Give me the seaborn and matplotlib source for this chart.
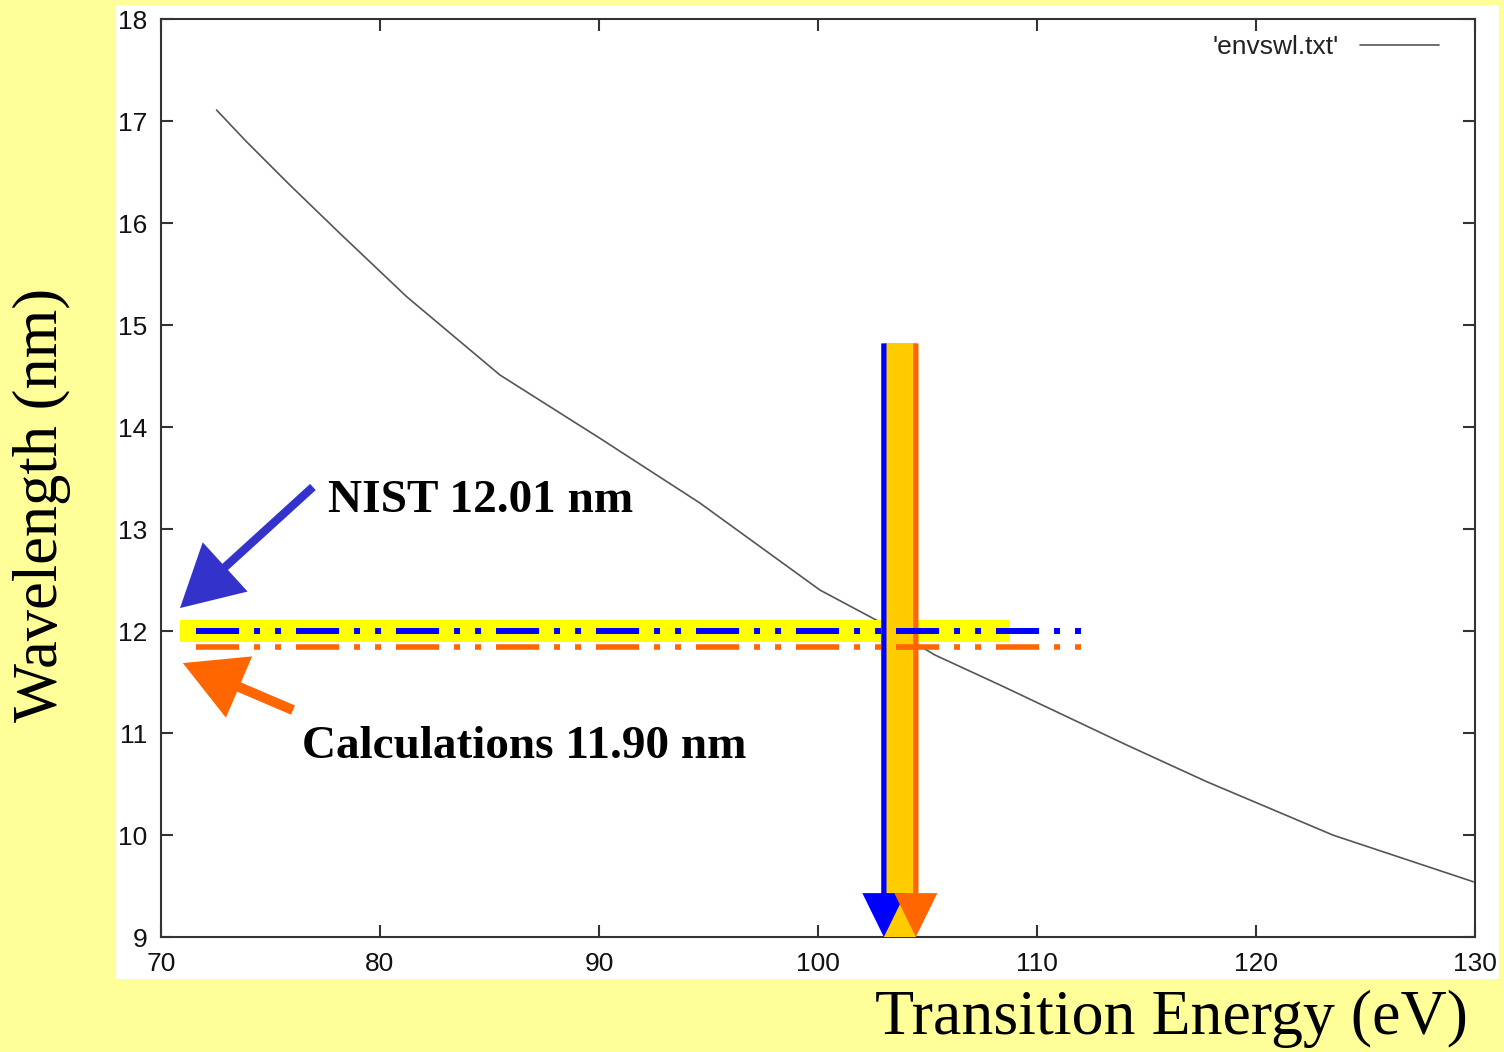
import numpy as np
import pandas as pd
import seaborn as sns
import matplotlib.pyplot as plt
from matplotlib.patches import Rectangle

## Data
energy = [72.54, 73.91, 75.81, 78.17, 81.22, 85.48, 90.05, 94.61, 100.09,
          102.83, 105.34, 108.31, 114.10, 117.75, 123.53, 129.92]
wavelength = [17.108, 16.797, 16.389, 15.899, 15.278, 14.510, 13.889, 13.255,
              12.402, 12.088, 11.765, 11.471, 10.882, 10.523, 9.998, 9.542]

nist_line = 12.00      # blue dash-dot-dot line
calc_line = 11.84      # orange dash-dot-dot line
line_x = [71.60, 112.01]
band_x = [70.87, 108.77]
band_y = [11.892, 12.108]
nist_energy = 103.01
calc_energy = 104.47
vert_top = 14.82

nist_label = "NIST 12.01 nm"
calc_label = "Calculations 11.90 nm"

BLUE = "#0000FF"
ORANGE = "#FF6600"
SERIF = ["Liberation Serif", "DejaVu Serif"]

sns.set_theme(style="ticks")
plt.rcParams["font.family"] = ["Liberation Sans", "DejaVu Sans"]
plt.rcParams["lines.scale_dashes"] = False
plt.rcParams["text.color"] = "black"

fig = plt.figure(figsize=(15.04, 10.52), dpi=100, facecolor="#FFFF99")
fig.add_artist(Rectangle((0.0771, 0.0694), 0.9196, 0.9258, transform=fig.transFigure,
                         facecolor="white", edgecolor="none", zorder=-5))
ax = fig.add_axes([0.1070, 0.1093, 0.8737, 0.8726])
ax.set_facecolor("white")

df = pd.DataFrame({"energy": energy, "wavelength": wavelength})
sns.lineplot(data=df, x="energy", y="wavelength", ax=ax, color="#555555",
             linewidth=1.2, label="'envswl.txt'", zorder=1)

## highlight bands
ax.fill_between(band_x, band_y[0], band_y[1], color="#FFFF00", lw=0, zorder=2)
ax.fill_betweenx([9, vert_top], nist_energy, calc_energy, color="#FFCC00", lw=0, zorder=3)

## vertical arrows
for xe, col in [(nist_energy, BLUE), (calc_energy, ORANGE)]:
    ax.annotate("", xy=(xe, 9), xytext=(xe, vert_top),
                arrowprops=dict(arrowstyle="simple,head_length=1.58,head_width=1.55,tail_width=0.19",
                                color=col, lw=0, shrinkA=0, shrinkB=0, mutation_scale=20),
                zorder=4)

## dash-dot-dot horizontal lines
pattern = (0, (31, 10.8, 4.3, 10.8, 4.3, 10.8))
ax.plot(line_x, [nist_line, nist_line], color=BLUE, lw=4.3, linestyle=pattern,
        dash_capstyle="butt", zorder=5)
ax.plot(line_x, [calc_line, calc_line], color=ORANGE, lw=4.0, linestyle=pattern,
        dash_capstyle="butt", zorder=5)

## pointer arrows and labels
ax.annotate("", xy=(70.87, 12.225), xytext=(76.94, 13.412),
            arrowprops=dict(arrowstyle="simple,head_length=2.2,head_width=2.4,tail_width=0.3",
                            color="#3333CC", lw=0, shrinkA=0, shrinkB=0, mutation_scale=20),
            zorder=6)
ax.annotate("", xy=(71.00, 11.686), xytext=(76.03, 11.225),
            arrowprops=dict(arrowstyle="simple,head_length=2.2,head_width=2.4,tail_width=0.36",
                            color=ORANGE, lw=0, shrinkA=0, shrinkB=0, mutation_scale=20),
            zorder=6)
ax.text(77.63, 13.17, nist_label, fontsize=34, fontweight="bold", color="black",
        family=SERIF, ha="left", va="baseline", zorder=7)
ax.text(76.44, 10.755, calc_label, fontsize=34, fontweight="bold", color="black",
        family=SERIF, ha="left", va="baseline", zorder=7)

## axes
ax.set_xlim(70, 130)
ax.set_ylim(9, 18)
ax.set_xticks(np.arange(70, 131, 10))
ax.set_yticks(np.arange(9, 19, 1))
ax.tick_params(direction="in", length=8.6, width=1.5, top=True, right=True,
               labelsize=19, pad=10, colors="#333333", labelcolor="#111111")
ax.tick_params(axis="x", pad=11)
for sp in ax.spines.values():
    sp.set_visible(True)
    sp.set_color("#333333")
    sp.set_linewidth(1.5)

ax.set_xlabel("Transition Energy (eV)", fontsize=46, family=SERIF, color="black",
              ha="right", va="center")
ax.xaxis.set_label_coords(0.9947, -0.0887)
ax.set_ylabel("Wavelength (nm)", fontsize=45, family=SERIF, color="black", va="center")
ax.yaxis.set_label_coords(-0.0906, 0.4706)

leg = ax.legend(loc="upper right", frameon=False, markerfirst=False, fontsize=19,
                handlelength=3.0, bbox_to_anchor=(0.9905, 1.008))
for t in leg.get_texts():
    t.set_color("#222222")

fig.savefig("out.png", dpi=100, facecolor=fig.get_facecolor())
